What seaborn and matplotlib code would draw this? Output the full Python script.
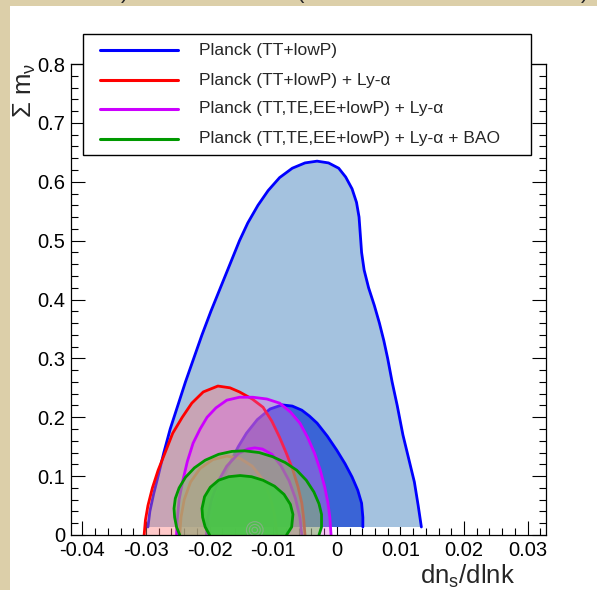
import numpy as np
import matplotlib
matplotlib.use("Agg")
import matplotlib.pyplot as plt
from matplotlib.patches import Rectangle
import seaborn as sns

# ---------------- data ----------------
labels = ["Planck (TT+lowP)",
          "Planck (TT+lowP) + Ly-\u03b1",
          "Planck (TT,TE,EE+lowP) + Ly-\u03b1",
          "Planck (TT,TE,EE+lowP) + Ly-\u03b1 + BAO"]

blue_outer_x = [-0.0297, -0.0294, -0.0288, -0.0281, -0.0272, -0.0262, -0.0250, -0.0238,
                -0.0225, -0.0212, -0.0198, -0.0183, -0.0168, -0.0153, -0.0140, -0.0124,
                -0.0108, -0.0090, -0.0070, -0.0050, -0.0031, -0.0013, 0.0003, 0.0014,
                0.0024, 0.0031, 0.0035, 0.0037, 0.0039, 0.0043, 0.0050, 0.0059,
                0.0067, 0.0074, 0.0080, 0.0087, 0.0095, 0.0104, 0.0113, 0.0122,
                0.0128, 0.0133]
blue_outer_y = [0.0136, 0.040, 0.070, 0.100, 0.140, 0.180, 0.220, 0.260,
                0.300, 0.340, 0.380, 0.420, 0.460, 0.500, 0.530, 0.560,
                0.585, 0.607, 0.623, 0.632, 0.635, 0.632, 0.623, 0.608,
                0.588, 0.565, 0.540, 0.510, 0.480, 0.450, 0.420, 0.390,
                0.360, 0.330, 0.300, 0.260, 0.220, 0.170, 0.130, 0.090,
                0.050, 0.0136]

blue_inner_x = [-0.0203, -0.0197, -0.0189, -0.0179, -0.0168, -0.0155, -0.0142, -0.0125,
                -0.0105, -0.0086, -0.0070, -0.0055, -0.0043, -0.0031, -0.0015, 0.0000,
                0.0013, 0.0024, 0.0033, 0.0039, 0.0041, 0.0041]
blue_inner_y = [0.0136, 0.040, 0.065, 0.095, 0.122, 0.150, 0.173, 0.196,
                0.214, 0.221, 0.219, 0.212, 0.202, 0.190, 0.168, 0.144,
                0.121, 0.0985, 0.076, 0.054, 0.030, 0.0136]

red_outer_x = [-0.0303, -0.0301, -0.0297, -0.0290, -0.0281, -0.0270, -0.0258, -0.0243,
               -0.0228, -0.0210, -0.0187, -0.0168, -0.0153, -0.0133, -0.0116, -0.0102,
               -0.0090, -0.0079, -0.0069, -0.0061, -0.0055, -0.0052, -0.0050]
red_outer_y = [0.0, 0.025, 0.050, 0.080, 0.110, 0.140, 0.173, 0.200,
               0.224, 0.243, 0.253, 0.250, 0.243, 0.231, 0.217, 0.193,
               0.166, 0.138, 0.110, 0.082, 0.054, 0.027, 0.0]

red_inner_x = [-0.0247, -0.0245, -0.0240, -0.0230, -0.0215, -0.0195, -0.0173, -0.0152,
               -0.0133, -0.0117, -0.0105, -0.0098, -0.0094]
red_inner_y = [0.0, 0.030, 0.060, 0.090, 0.113, 0.128, 0.134, 0.130,
               0.117, 0.095, 0.065, 0.035, 0.0]

mag_outer_x = [-0.0252, -0.0251, -0.0248, -0.0242, -0.0235, -0.0226, -0.0215, -0.0204,
               -0.0190, -0.0173, -0.0153, -0.0132, -0.0110, -0.0090, -0.0073, -0.0058,
               -0.0046, -0.0035, -0.0026, -0.0019, -0.0014, -0.0011, -0.0009]
mag_outer_y = [0.0, 0.025, 0.060, 0.093, 0.125, 0.156, 0.180, 0.200,
               0.216, 0.229, 0.234, 0.234, 0.231, 0.224, 0.209, 0.190,
               0.166, 0.139, 0.110, 0.0815, 0.055, 0.0306, 0.0]

mag_inner_x = [-0.0205, -0.0203, -0.0197, -0.0187, -0.0173, -0.0155, -0.0140, -0.0129,
               -0.0117, -0.0102, -0.0088, -0.0075, -0.0065, -0.0058, -0.0055]
mag_inner_y = [0.0, 0.030, 0.060, 0.090, 0.117, 0.138, 0.146, 0.148,
               0.146, 0.137, 0.118, 0.092, 0.062, 0.030, 0.0]

green_outer_x = [-0.0247, -0.0252, -0.0255, -0.0256, -0.0254, -0.0248, -0.0238, -0.0224,
                 -0.0207, -0.0186, -0.0165, -0.0145, -0.0122, -0.0101, -0.0081, -0.0063,
                 -0.0048, -0.0036, -0.0028, -0.0024, -0.0024, -0.0028]
green_outer_y = [0.0, 0.0136, 0.030, 0.045, 0.062, 0.080, 0.098, 0.114,
                 0.127, 0.137, 0.142, 0.143, 0.140, 0.133, 0.123, 0.110,
                 0.093, 0.073, 0.053, 0.035, 0.0136, 0.0]

green_inner_x = [-0.0200, -0.0207, -0.0211, -0.0212, -0.0208, -0.0199, -0.0186, -0.0170,
                 -0.0152, -0.0134, -0.0116, -0.0098, -0.0083, -0.0073, -0.0069, -0.0071,
                 -0.0079]
green_inner_y = [0.0, 0.0136, 0.030, 0.045, 0.065, 0.081, 0.093, 0.099,
                 0.101, 0.099, 0.093, 0.083, 0.069, 0.052, 0.035, 0.0136,
                 0.0]

best_fit_x = [-0.0129]
best_fit_y = [0.0085]

x_ticks = [-0.04, -0.03, -0.02, -0.01, 0.0, 0.01, 0.02, 0.03]
x_ticklabels = ["-0.04", "-0.03", "-0.02", "-0.01", "0", "0.01", "0.02", "0.03"]
y_ticks = [0.0, 0.1, 0.2, 0.3, 0.4, 0.5, 0.6, 0.7, 0.8]
y_ticklabels = ["0", "0.1", "0.2", "0.3", "0.4", "0.5", "0.6", "0.7", "0.8"]

line_colors = ["#0000ff", "#ff0000", "#cc00ff", "#009900"]

# ---------------- style ----------------
sns.set_style("ticks")
plt.rcParams['font.family'] = ['Liberation Sans', 'DejaVu Sans']
plt.rcParams['mathtext.fontset'] = 'custom'
plt.rcParams['mathtext.rm'] = 'Liberation Sans'
plt.rcParams['mathtext.it'] = 'Liberation Sans:italic'

W, H = 597, 590
fig = plt.figure(figsize=(W / 100, H / 100), dpi=100)
fig.patch.set_facecolor('#dccfa9')
fig.add_artist(Rectangle((10 / W, 0), 1, (H - 6) / H, transform=fig.transFigure,
                         facecolor='white', edgecolor='none', zorder=0))
# cropped title fragments at the very top of the picture
for fx, frag in [(125, ")"), (300, "("), (585, ")")]:
    fig.text(fx / W, 1 - 3 / H, frag, ha='center', va='bottom', fontsize=16)

ax = fig.add_axes([71 / W, 55 / H, 475 / W, 471 / H])
ax.set_facecolor('none')

def contour(xs, ys, fc, alpha, lc, lw=2.0, z=1, lalpha=1.0):
    ax.fill(xs, ys, facecolor=fc, alpha=alpha, edgecolor='none', zorder=z)
    sns.lineplot(x=np.array(xs), y=np.array(ys), sort=False, estimator=None, ax=ax,
                 color=lc, lw=lw, alpha=lalpha, zorder=z + 0.5)

contour(blue_outer_x, blue_outer_y, '#a4c2df', 1.0, line_colors[0], z=1)
contour(blue_inner_x, blue_inner_y, '#3a64d6', 1.0, line_colors[0], z=2)
contour(red_outer_x, red_outer_y, '#ff7878', 0.40, line_colors[1], z=3)
contour(red_inner_x, red_inner_y, '#ff9a78', 0.30, '#ff6a3a', z=4)
contour(mag_outer_x, mag_outer_y, '#e664e6', 0.35, line_colors[2], z=5)
contour(mag_inner_x, mag_inner_y, '#e664e6', 0.30, line_colors[2], z=6)
contour(green_outer_x, green_outer_y, '#7cc060', 0.50, line_colors[3], z=7)
contour(green_inner_x, green_inner_y, '#44c844', 0.90, line_colors[3], z=8)
for ms in (4, 8, 12):
    ax.scatter(best_fit_x, best_fit_y, s=ms ** 2, facecolors='none',
               edgecolors='#9aa89a', linewidths=0.8, alpha=0.7, zorder=9)

ax.set_xlim(-0.0418, 0.0329)
ax.set_ylim(0, 0.8)
ax.set_xticks(x_ticks)
ax.set_xticklabels(x_ticklabels)
ax.set_yticks(y_ticks)
ax.set_yticklabels(y_ticklabels)
ax.set_xticks(np.arange(-0.040, 0.0329, 0.002), minor=True)
ax.set_yticks(np.arange(0, 0.801, 0.02), minor=True)
ax.tick_params(which='both', direction='in', width=0.8, colors='black',
               labelsize=14.5, top=False, right=True, pad=4)
ax.tick_params(which='major', length=10)
ax.tick_params(which='minor', length=5)
ax.set_xlabel("")
ax.set_ylabel("")
for s in ax.spines.values():
    s.set_visible(True)
    s.set_linewidth(0.9)
    s.set_color('black')
    s.set_zorder(20)

# axis titles
fig.text(515 / W, 1 - 584 / H, "dn$_{\\mathregular{s}}$/dlnk", ha='right', va='baseline',
         fontsize=18.5)
fig.text(38 / W, 1 - 63 / H, "\u03a3 m$_{\\mathregular{\u03bd}}$", rotation=90,
         ha='right', va='top', fontsize=18.5)

# legend
lax = fig.add_axes([83 / W, (H - 155) / H, 448 / W, 121 / H], zorder=30)
lax.set_xlim(0, 448)
lax.set_ylim(121, 0)
lax.axis('off')
lax.add_patch(Rectangle((0, 0), 448, 121, facecolor='white', edgecolor='black', lw=1.0,
                        clip_on=False))
rows = [16, 46, 75, 105]
for lab, col, r in zip(labels, line_colors, rows):
    lax.plot([17, 95], [r, r], color=col, lw=2.2)
    lax.text(116, r, lab, va='center', ha='left', fontsize=12.5)

fig.savefig("out.png", dpi=100, facecolor=fig.get_facecolor())
